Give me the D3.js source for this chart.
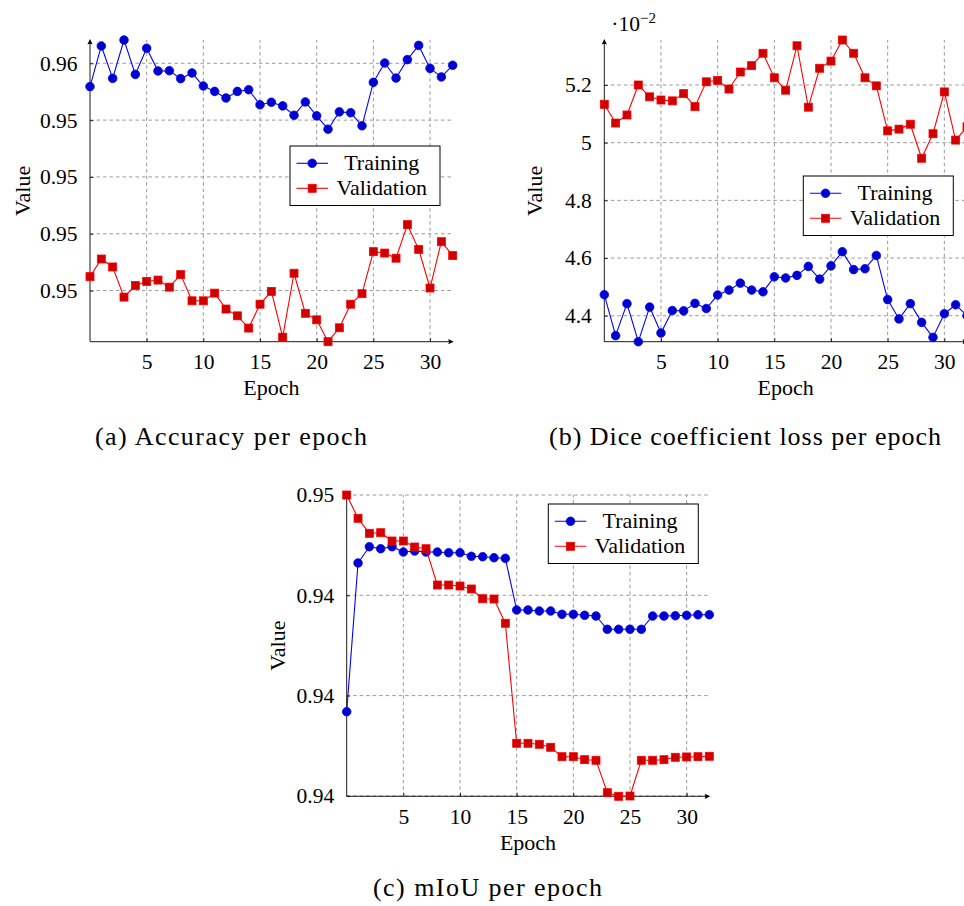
<!DOCTYPE html>
<html>
<head>
<meta charset="utf-8">
<script src="https://cdn.jsdelivr.net/npm/d3@7"></script>
<style>
  body { margin: 0; background: #fff; }
  svg { display: block; font-family: "Liberation Serif", "Times New Roman", serif; }
</style>
</head>
<body>
<div id="chart"></div>
<script>
// Epochs and series names shared by all three plots
const epochs = [0, 1, 2, 3, 4, 5, 6, 7, 8, 9, 10, 11, 12, 13, 14, 15, 16,
                17, 18, 19, 20, 21, 22, 23, 24, 25, 26, 27, 28, 29, 30, 31, 32];
const seriesNames = ["Training", "Validation"];
const epochTicks = [5, 10, 15, 20, 25, 30];

// (a) accuracy
const accuracyTraining = [0.95518, 0.95661, 0.95547, 0.95682, 0.95561, 0.95653, 0.95573, 0.95574, 0.95546,
  0.95566, 0.95520, 0.95501, 0.95478, 0.95501, 0.95507, 0.95454, 0.95463, 0.95450, 0.95417, 0.95464,
  0.95415, 0.95368, 0.95429, 0.95426, 0.95380, 0.95533, 0.95601, 0.95548, 0.95613, 0.95663, 0.95582,
  0.95552, 0.95593];
const accuracyValidation = [0.94849, 0.94911, 0.94883, 0.94777, 0.94818, 0.94832, 0.94837, 0.94812, 0.94856,
  0.94764, 0.94764, 0.94791, 0.94735, 0.94711, 0.94668, 0.94752, 0.94797, 0.94636, 0.94861, 0.94720,
  0.94697, 0.94620, 0.94669, 0.94752, 0.94789, 0.94937, 0.94932, 0.94914, 0.95032, 0.94945, 0.94809,
  0.94972, 0.94923];
const accuracyTicks = [0.948, 0.950, 0.952, 0.954, 0.956];

// (b) dice coefficient loss
const diceTraining = [0.04473, 0.04331, 0.04442, 0.04310, 0.04430, 0.04340, 0.04418, 0.04417, 0.04443,
  0.04425, 0.04472, 0.04489, 0.04513, 0.04489, 0.04483, 0.04535, 0.04531, 0.04540, 0.04571, 0.04527,
  0.04573, 0.04622, 0.04560, 0.04563, 0.04609, 0.04456, 0.04389, 0.04442, 0.04377, 0.04325, 0.04407,
  0.04438, 0.04400];
const diceValidation = [0.05133, 0.05068, 0.05096, 0.05200, 0.05159, 0.05148, 0.05145, 0.05170, 0.05125,
  0.05211, 0.05216, 0.05186, 0.05245, 0.05267, 0.05310, 0.05225, 0.05182, 0.05336, 0.05123, 0.05258,
  0.05283, 0.05356, 0.05310, 0.05225, 0.05197, 0.05041, 0.05047, 0.05064, 0.04946, 0.05031, 0.05176,
  0.05009, 0.05055];
const diceTicks = [0.044, 0.046, 0.048, 0.050, 0.052];

// (c) mIoU
const miouTraining = [0.941679, 0.944644, 0.944969, 0.944929, 0.944969, 0.944863, 0.944883, 0.944863,
  0.944863, 0.944849, 0.944849, 0.944778, 0.944770, 0.944750, 0.944738, 0.943707, 0.943707, 0.943687,
  0.943687, 0.943621, 0.943621, 0.943601, 0.943587, 0.943322, 0.943322, 0.943322, 0.943322, 0.943587,
  0.943587, 0.943593, 0.943601, 0.943613, 0.943613];
const miouValidation = [0.946000, 0.945535, 0.945236, 0.945248, 0.945083, 0.945083, 0.944963, 0.944929,
  0.944205, 0.944205, 0.944185, 0.944126, 0.943932, 0.943926, 0.943442, 0.941049, 0.941049, 0.941029,
  0.940969, 0.940782, 0.940782, 0.940722, 0.940710, 0.940064, 0.939992, 0.939998, 0.940710, 0.940710,
  0.940722, 0.940770, 0.940777, 0.940782, 0.940790];
const miouTicks = [0.940, 0.942, 0.944, 0.946];

const width = 964, height = 906;
const fontSize = 21.5;

const styles = {
  Training:   {line: "#0000ff", fill: "#0000cc", mark: "circle"},
  Validation: {line: "#ff0000", fill: "#cc0000", mark: "square"}
};

// panel layout (pixel boxes of each plot area)
const panels = [
  {
    training: accuracyTraining, validation: accuracyValidation,
    yTicks: accuracyTicks, yFormat: d3.format(".2f"),
    left: 90, right: 452.7, top: 40, bottom: 341.7,
    legendX: 290, legendY: 146, yLabelX: 29.5,
    caption: "(a) Accuracy per epoch", captionX: 231, captionY: 445, captionLen: 272
  },
  {
    training: diceTraining, validation: diceValidation,
    yTicks: diceTicks, yFormat: d => d3.format(".2~g")(d * 100), multiplier: true,
    left: 604.3, right: 967, top: 40, bottom: 341.7,
    legendX: 803.3, legendY: 176, yLabelX: 542,
    caption: "(b) Dice coefficient loss per epoch", captionX: 745, captionY: 445, captionLen: 392
  },
  {
    training: miouTraining, validation: miouValidation,
    yTicks: miouTicks, yFormat: d3.format(".2f"),
    left: 346.7, right: 709.3, top: 495, bottom: 796.3,
    legendX: 548.3, legendY: 504, yLabelX: 284.5,
    caption: "(c) mIoU per epoch", captionX: 487.5, captionY: 896, captionLen: 229
  }
];

const svg = d3.select("#chart").append("svg")
  .attr("width", width)
  .attr("height", height);

svg.append("rect").attr("width", width).attr("height", height).attr("fill", "#fff");

function drawMarker(sel, kind, cx, cy, s) {
  if (kind === "circle") {
    sel.append("circle")
      .attr("cx", cx).attr("cy", cy).attr("r", 4.3)
      .attr("fill", s.fill).attr("stroke", s.line).attr("stroke-width", 0.8);
  } else {
    sel.append("rect")
      .attr("x", cx - 4).attr("y", cy - 4).attr("width", 8).attr("height", 8)
      .attr("fill", s.fill).attr("stroke", s.line).attr("stroke-width", 0.8);
  }
}

function drawPanel(p) {
  const x = d3.scaleLinear().domain(d3.extent(epochs)).range([p.left, p.right]);
  const y = d3.scaleLinear()
    .domain(d3.extent(p.training.concat(p.validation)))
    .range([p.bottom, p.top]);

  const g = svg.append("g");

  // dashed grid
  const grid = g.append("g")
    .attr("stroke", "#999")
    .attr("stroke-width", 1)
    .attr("stroke-dasharray", "3.5,3");
  grid.selectAll(".vgrid").data(epochTicks).join("line")
    .attr("class", "vgrid")
    .attr("x1", d => x(d)).attr("x2", d => x(d))
    .attr("y1", p.bottom).attr("y2", p.top);
  grid.selectAll(".hgrid").data(p.yTicks).join("line")
    .attr("class", "hgrid")
    .attr("x1", p.left).attr("x2", p.right)
    .attr("y1", d => y(d)).attr("y2", d => y(d));

  // axes (ticks + labels), own axis lines with arrow tips
  const xAxis = d3.axisBottom(x).tickValues(epochTicks)
    .tickSizeInner(-3.5).tickSizeOuter(0).tickPadding(12.2);
  const yAxis = d3.axisLeft(y).tickValues(p.yTicks).tickFormat(p.yFormat)
    .tickSizeInner(-3.5).tickSizeOuter(0).tickPadding(12.5);

  [[xAxis, `translate(0,${p.bottom})`], [yAxis, `translate(${p.left},0)`]].forEach(([ax, tr]) => {
    const ag = g.append("g").attr("transform", tr).call(ax);
    ag.attr("font-family", null).attr("font-size", fontSize);
    ag.select(".domain").remove();
    ag.selectAll(".tick line").attr("stroke", "#000").attr("stroke-width", 0.8);
    ag.selectAll(".tick text").attr("fill", "#000");
  });

  const axisLines = g.append("g");
  axisLines.append("line")
    .attr("x1", p.left).attr("x2", p.right - 1)
    .attr("y1", p.bottom).attr("y2", p.bottom)
    .attr("stroke", "#000").attr("stroke-width", 0.9);
  axisLines.append("line")
    .attr("x1", p.left).attr("x2", p.left)
    .attr("y1", p.bottom).attr("y2", p.top + 1)
    .attr("stroke", "#000").attr("stroke-width", 0.9);
  axisLines.append("path")
    .attr("d", `M${p.right + 1},${p.bottom} L${p.right - 4.5},${p.bottom - 2.6} Q${p.right - 3},${p.bottom} ${p.right - 4.5},${p.bottom + 2.6} Z`)
    .attr("fill", "#000");
  axisLines.append("path")
    .attr("d", `M${p.left},${p.top - 1} L${p.left - 2.6},${p.top + 4.5} Q${p.left},${p.top + 3} ${p.left + 2.6},${p.top + 4.5} Z`)
    .attr("fill", "#000");

  // series
  const line = d3.line().x((d, i) => x(epochs[i])).y(d => y(d));
  [[seriesNames[0], p.training], [seriesNames[1], p.validation]].forEach(([name, values]) => {
    const s = styles[name];
    g.append("path")
      .datum(values)
      .attr("fill", "none")
      .attr("stroke", s.line)
      .attr("stroke-width", 1.1)
      .attr("stroke-linejoin", "round")
      .attr("d", line);
    const marks = g.append("g");
    values.forEach((v, i) => drawMarker(marks, s.mark, x(epochs[i]), y(v), s));
  });

  // legend
  const lg = g.append("g").attr("transform", `translate(${p.legendX},${p.legendY})`);
  lg.append("rect")
    .attr("width", 150).attr("height", 59.5)
    .attr("fill", "#fff").attr("stroke", "#000").attr("stroke-width", 1);
  seriesNames.forEach((name, i) => {
    const s = styles[name];
    const cy = 17.3 + i * 25;
    lg.append("line")
      .attr("x1", 6.5).attr("x2", 38).attr("y1", cy).attr("y2", cy)
      .attr("stroke", s.line).attr("stroke-width", 1.1);
    drawMarker(lg, s.mark, 22.2, cy, s);
    lg.append("text")
      .attr("x", 91.7).attr("y", cy + 7)
      .attr("text-anchor", "middle")
      .attr("font-size", 22)
      .text(name);
  });

  // axis labels
  g.append("text")
    .attr("x", (p.left + p.right) / 2)
    .attr("y", p.bottom + 53.3)
    .attr("text-anchor", "middle")
    .attr("font-size", 22)
    .text("Epoch");
  g.append("text")
    .attr("transform", `translate(${p.yLabelX},${(p.top + p.bottom) / 2}) rotate(-90)`)
    .attr("text-anchor", "middle")
    .attr("font-size", 22)
    .text("Value");

  if (p.multiplier) {
    const m = g.append("text")
      .attr("x", p.left + 7)
      .attr("y", 31)
      .attr("font-size", fontSize);
    m.append("tspan").text("·10");
    m.append("tspan").attr("dy", -8).attr("font-size", 15).text("−2");
  }

  // caption
  svg.append("text")
    .attr("x", p.captionX)
    .attr("y", p.captionY)
    .attr("text-anchor", "middle")
    .attr("font-size", 26)
    .attr("textLength", p.captionLen)
    .attr("lengthAdjust", "spacing")
    .text(p.caption);
}

panels.forEach(drawPanel);
</script>
</body>
</html>
